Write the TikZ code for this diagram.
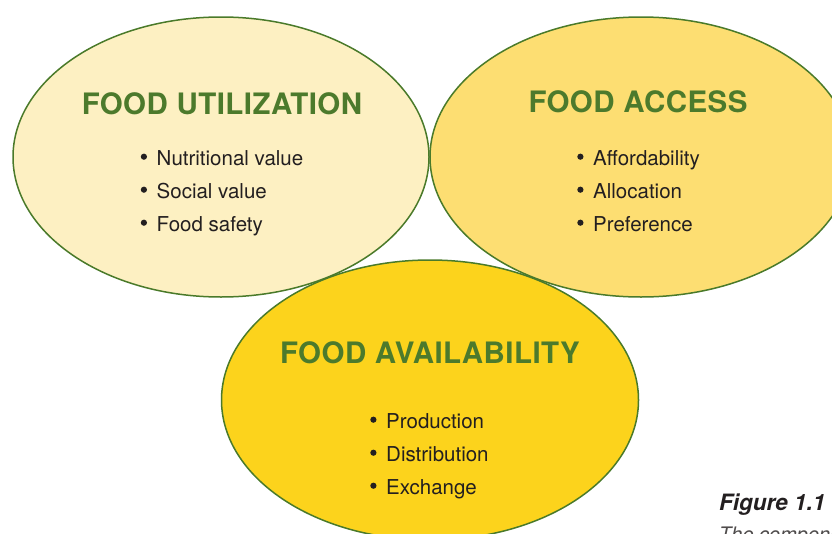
\documentclass[tikz,border=0pt]{standalone}
\usepackage{fontspec}
\setmainfont{TeX Gyre Heros}
\newfontfamily\titlefont[LetterSpace=1.5]{TeX Gyre Heros}
\usetikzlibrary{shapes.geometric}
\definecolor{bordergreen}{HTML}{4A7A2A}
\definecolor{titlegreen}{HTML}{4C7A2C}
\definecolor{paleyellow}{HTML}{FDF0C2}
\definecolor{midyellow}{HTML}{FDDE72}
\definecolor{deepyellow}{HTML}{FCD31C}
\definecolor{bodytext}{HTML}{231F20}
\newcommand\bdot{\makebox[17.5pt][l]{\hspace{1.6pt}\raisebox{5.2pt}{\tikz\fill[bodytext] (0pt,0pt) circle (3.1pt);}}}
\tikzset{
  circ/.style={ellipse, draw=bordergreen, line width=1.5pt, inner sep=0pt},
  ttl/.style={text=titlegreen, font=\titlefont\bfseries\fontsize{29.5}{30}\selectfont, anchor=center},
  item/.style={text=bodytext, font=\fontsize{20.5}{24}\selectfont, anchor=base west, inner sep=0pt},
}
\begin{document}
\begin{tikzpicture}[x=1pt,y=-1pt]
\useasboundingbox (0,0) rectangle (832,533);
\clip (0,0) rectangle (832,533);
\node[circ, fill=paleyellow, minimum width=416pt, minimum height=280pt] (util) at (221,157) {};
\node[circ, fill=midyellow, minimum width=422pt, minimum height=280pt] (access) at (641,157) {};
\node[circ, fill=deepyellow, minimum width=417pt, minimum height=280pt] (avail) at (430,400) {};
\node[ttl] (t1) at (222,104) {FOOD UTILIZATION};
\node[ttl] (t2) at (638,102) {FOOD ACCESS};
\node[ttl] (t3) at (430,353) {FOOD AVAILABILITY};
\node[item] (u1) at (139,165) {\bdot Nutritional value};
\node[item] (u2) at (139,198) {\bdot Social value};
\node[item] (u3) at (139,231) {\bdot Food safety};
\node[item] (a1) at (575.5,165) {\bdot Affordability};
\node[item] (a2) at (575.5,198) {\bdot Allocation};
\node[item] (a3) at (575.5,231) {\bdot Preference};
\node[item] (v1) at (368.5,428) {\bdot Production};
\node[item] (v2) at (368.5,461) {\bdot Distribution};
\node[item] (v3) at (368.5,494) {\bdot Exchange};
\node[anchor=base west, inner sep=0pt, text=bodytext, font=\fontsize{22.5}{22}\selectfont\bfseries\itshape] (fig) at (719,510) {Figure 1.1};
\node[anchor=base west, inner sep=0pt, text=bodytext!80, font=\fontsize{20}{20}\selectfont\itshape] (cap) at (719,541) {The components};
\end{tikzpicture}
\end{document}
